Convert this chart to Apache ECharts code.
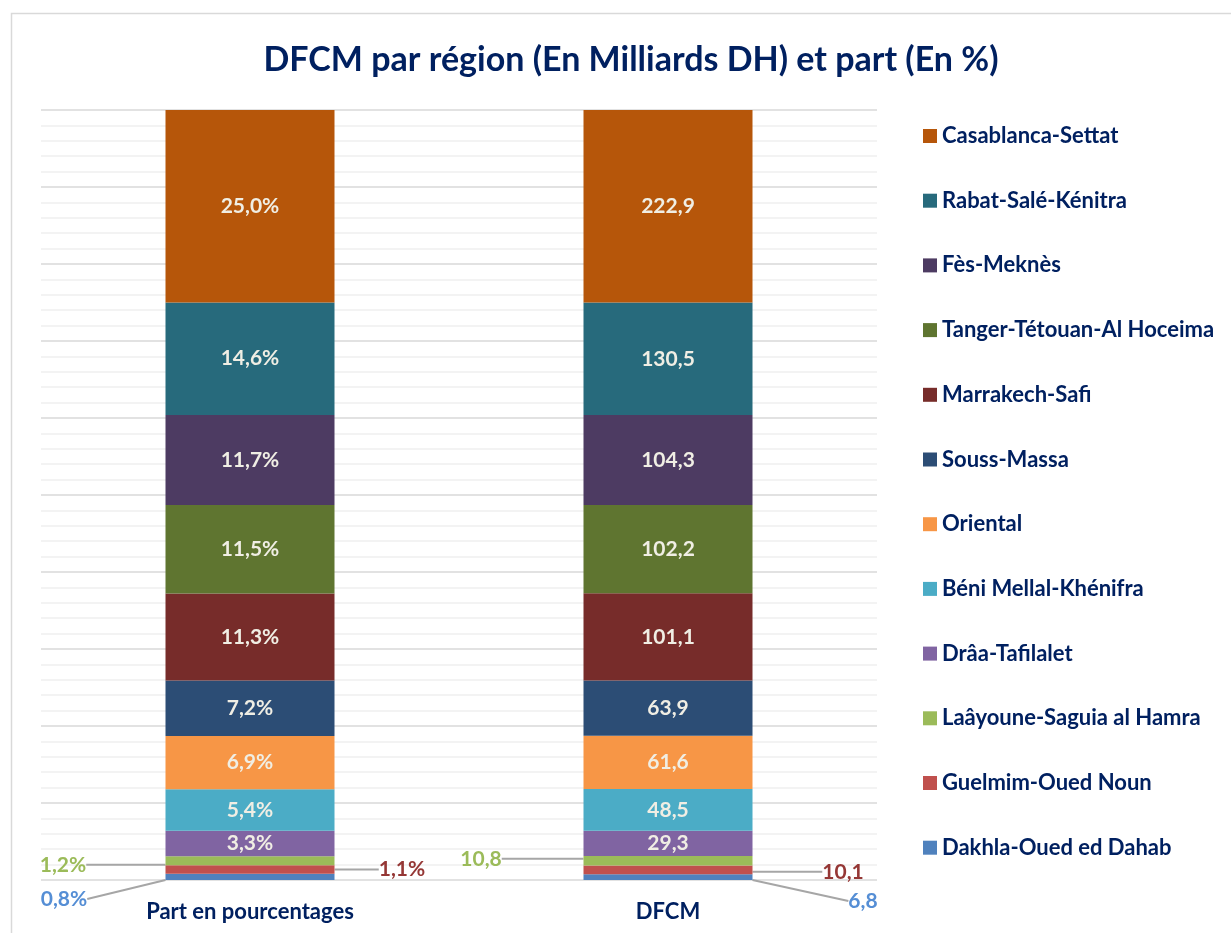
<!DOCTYPE html>
<html>
<head>
<meta charset="utf-8">
<script src="https://cdn.jsdelivr.net/npm/echarts@6/dist/echarts.min.js"></script>
<style>
html,body{margin:0;padding:0;background:#fff;}
#chart{width:1231px;height:933px;}
</style>
</head>
<body>
<div id="chart"></div>
<script>
// Categories (x axis)
const categories = ['Part en pourcentages', 'DFCM'];
// Regions, bottom of stack first
const regions = ['Dakhla-Oued ed Dahab', 'Guelmim-Oued Noun', 'Laâyoune-Saguia al Hamra', 'Drâa-Tafilalet',
  'Béni Mellal-Khénifra', 'Oriental', 'Souss-Massa', 'Marrakech-Safi', 'Tanger-Tétouan-Al Hoceima',
  'Fès-Meknès', 'Rabat-Salé-Kénitra', 'Casablanca-Settat'];
// Share (%) per region
const partValues = [0.8, 1.1, 1.2, 3.3, 5.4, 6.9, 7.2, 11.3, 11.5, 11.7, 14.6, 25.0];
// DFCM (billion DH) per region
const dfcmValues = [6.8, 10.1, 10.8, 29.3, 48.5, 61.6, 63.9, 101.1, 102.2, 104.3, 130.5, 222.9];

const colors = ['#4F81BD', '#C0504D', '#9BBB59', '#8064A2', '#4BACC6', '#F79646',
  '#2C4D75', '#772C2A', '#5F7530', '#4D3B62', '#276A7C', '#B6560A'];
const outsideLabelColors = {0: '#558ED5', 1: '#953735', 2: '#9BBB59'};
// label offsets (px) from bar-segment centre for the thin segments: [part, dfcm]
const labelOffsets = {
  0: [[-186, 22], [195, 24]],
  1: [[152, 0], [175, 2]],
  2: [[-187, 4], [-187, -2]]
};

const dfcmTotal = dfcmValues.reduce((a, b) => a + b, 0);
const fmt = v => v.toFixed(1).replace('.', ',');

const chart = echarts.init(document.getElementById('chart'), null, {renderer: 'canvas'});
const FONT = 'Lato, "Open Sans", sans-serif';
const NAVY = '#002060';

const series = regions.map((name, i) => {
  const outside = i in labelOffsets;
  const s = {
    name: name,
    type: 'bar',
    stack: 'total',
    barWidth: 169,
    itemStyle: {color: colors[i]},
    data: [partValues[i], dfcmValues[i] / dfcmTotal * 100],
    label: {
      show: true,
      position: 'inside',
      fontFamily: FONT,
      fontWeight: 'bold',
      fontSize: 21,
      color: outside ? outsideLabelColors[i] : '#F0EEE4',
      formatter: p => p.dataIndex === 0 ? fmt(partValues[i]) + '%' : fmt(dfcmValues[i])
    }
  };
  if (outside) {
    s.labelLine = {show: true, lineStyle: {color: '#A6A6A6', width: 2}};
    s.labelLayout = function (params) {
      const r = params.rect;
      const off = labelOffsets[i][params.dataIndex];
      return {
        x: r.x + r.width / 2 + off[0],
        y: r.y + r.height / 2 + off[1],
        align: 'center',
        verticalAlign: 'middle'
      };
    };
  }
  return s;
});

chart.setOption({
  backgroundColor: '#fff',
  animation: false,
  title: {
    text: 'DFCM par région (En Milliards DH) et part (En %)',
    left: 626, top: 38, textAlign: 'center',
    textStyle: {fontFamily: FONT, fontWeight: 'bold', fontSize: 34, color: NAVY}
  },
  graphic: [{
    type: 'rect', left: 9, top: 11, silent: true,
    shape: {width: 1240, height: 940},
    style: {fill: 'none', stroke: '#D9D9D9', lineWidth: 1.5}
  }],
  legend: {
    orient: 'vertical',
    left: 923, top: 125, padding: 0,
    itemWidth: 14, itemHeight: 14, itemGap: 42.7,
    icon: 'rect',
    data: regions.slice().reverse(),
    textStyle: {fontFamily: FONT, fontWeight: 'bold', fontSize: 22, color: NAVY, lineHeight: 22}
  },
  grid: {left: 41, right: 354, top: 110, bottom: 53, containLabel: false},
  xAxis: {
    type: 'category',
    data: categories,
    axisLine: {show: false},
    axisTick: {show: false},
    axisLabel: {fontFamily: FONT, fontWeight: 'bold', fontSize: 22, color: NAVY, margin: 21}
  },
  yAxis: {
    type: 'value',
    min: 0, max: 100, interval: 10,
    axisLabel: {show: false},
    axisLine: {show: false},
    axisTick: {show: false},
    splitLine: {lineStyle: {color: '#D9D9D9', width: 1.5}},
    minorTick: {show: false, splitNumber: 5},
    minorSplitLine: {show: true, lineStyle: {color: '#EFEFEF', width: 1.5}}
  },
  series: series
});
</script>
</body>
</html>
